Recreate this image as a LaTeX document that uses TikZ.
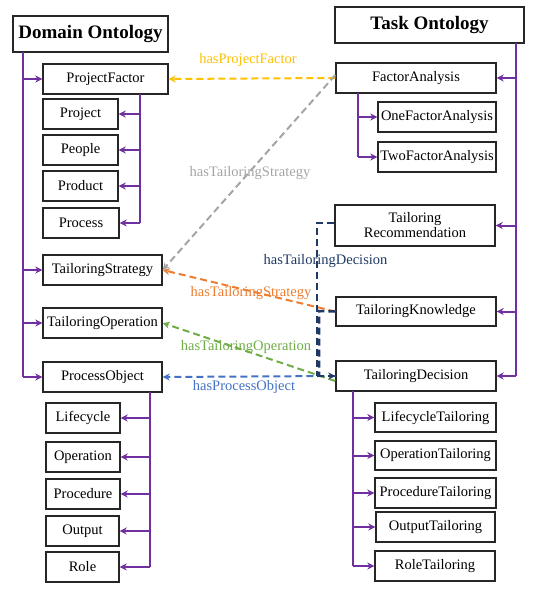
\documentclass[tikz,border=0pt]{standalone}
\usepackage{fontspec}
\setmainfont{Liberation Serif}
\usetikzlibrary{arrows.meta,calc}
\definecolor{purp}{HTML}{7030A0}
\definecolor{cyel}{HTML}{FFC000}
\definecolor{cgray}{HTML}{A5A5A5}
\definecolor{corange}{HTML}{ED7D31}
\definecolor{cgreen}{HTML}{70AD47}
\definecolor{cblue}{HTML}{4472C4}
\definecolor{cnavy}{HTML}{1F3864}
\tikzset{
  box/.style={draw=black!85, line width=1.4pt, inner sep=0pt, align=center, font=\fontsize{14.5}{15}\selectfont},
  head/.style={draw=black!85, line width=1.4pt, inner sep=0pt, font=\fontsize{19}{20}\selectfont\bfseries},
  tree/.style={draw=purp, line width=2pt},
  tarr/.style={tree, -{Stealth[length=7pt,width=7pt]}},
  rel/.style={line width=2pt, dash pattern=on 7pt off 4pt, -{Stealth[length=7pt,width=7pt]}},
  lab/.style={font=\fontsize{14.5}{15}\selectfont, inner sep=0pt}
}
\begin{document}
\begin{tikzpicture}[x=1pt,y=-1pt]
\useasboundingbox (0,0) rectangle (535,598);
% left side
\node[head, minimum width=155pt, minimum height=36pt] (dom) at (90.5,34) {Domain Ontology};
\node[box, minimum width=125pt, minimum height=30pt] (pf) at (105.5,79) {ProjectFactor};
\node[box, minimum width=75pt, minimum height=30pt] (proj) at (80.5,114) {Project};
\node[box, minimum width=75pt, minimum height=30pt] (people) at (80.5,150) {People};
\node[box, minimum width=75pt, minimum height=30pt] (product) at (80.5,186) {Product};
\node[box, minimum width=76pt, minimum height=30pt] (process) at (81,223) {Process};
\node[box, minimum width=119pt, minimum height=30pt] (ts) at (102.5,270) {TailoringStrategy};
\node[box, minimum width=119pt, minimum height=30pt] (to) at (102.5,323) {TailoringOperation};
\node[box, minimum width=119pt, minimum height=30pt] (po) at (102.5,377) {ProcessObject};
\node[box, minimum width=74pt, minimum height=30pt] (life) at (83,418) {Lifecycle};
\node[box, minimum width=74pt, minimum height=30pt] (oper) at (83,457) {Operation};
\node[box, minimum width=74pt, minimum height=30pt] (proc) at (83,494) {Procedure};
\node[box, minimum width=73pt, minimum height=30pt] (outp) at (82.5,531) {Output};
\node[box, minimum width=73pt, minimum height=30pt] (role) at (82.5,567) {Role};
% right side
\node[head, minimum width=189pt, minimum height=36pt] (task) at (429.5,25) {Task Ontology};
\node[box, minimum width=160pt, minimum height=30pt] (fa) at (416,78) {FactorAnalysis};
\node[box, minimum width=118pt, minimum height=30pt] (one) at (437,117) {OneFactorAnalysis};
\node[box, minimum width=118pt, minimum height=30pt] (two) at (437,157) {TwoFactorAnalysis};
\node[box, minimum width=160pt, minimum height=41pt] (trec) at (415,225.5) {Tailoring\\Recommendation};
\node[box, minimum width=160pt, minimum height=29pt] (tk) at (416,311.5) {TailoringKnowledge};
\node[box, minimum width=160pt, minimum height=30pt] (td) at (416,376) {TailoringDecision};
\node[box, minimum width=121pt, minimum height=29pt] (lt) at (435.5,417.5) {LifecycleTailoring};
\node[box, minimum width=121pt, minimum height=29pt] (ot) at (435.5,455.5) {OperationTailoring};
\node[box, minimum width=121pt, minimum height=30pt] (prt) at (435.5,493) {ProcedureTailoring};
\node[box, minimum width=119pt, minimum height=30pt] (outt) at (435.5,527) {OutputTailoring};
\node[box, minimum width=120pt, minimum height=30pt] (rt) at (435,566) {RoleTailoring};

% trunks
\coordinate (L) at (23,52);
\draw[tree] (L) -- (L |- po);
\foreach \n in {pf,ts,to,po} \draw[tarr] (L |- \n) -- (\n.west);
\coordinate (PF) at (140,94);
\draw[tree] (PF) -- (PF |- process);
\foreach \n in {proj,people,product,process} \draw[tarr] (PF |- \n) -- (\n.east);
\coordinate (PO) at (150,392);
\draw[tree] (PO) -- (PO |- role);
\foreach \n in {life,oper,proc,outp,role} \draw[tarr] (PO |- \n) -- (\n.east);
\coordinate (R) at (516,43);
\draw[tree] (R) -- (R |- td);
\foreach \n in {fa,trec,tk,td} \draw[tarr] (R |- \n) -- (\n.east);
\coordinate (FA) at (358,93);
\draw[tree] (FA) -- (FA |- two);
\foreach \n in {one,two} \draw[tarr] (FA |- \n) -- (\n.west);
\coordinate (TD) at (353,391);
\draw[tree] (TD) -- (TD |- rt);
\foreach \n in {lt,ot,prt,outt,rt} \draw[tarr] (TD |- \n) -- (\n.west);

% relations
\draw[rel, cyel] (fa.west) -- (pf.east);
\node[lab, text=cyel] (l1) at (248,60) {hasProjectFactor};
\draw[rel, cgray] ([yshift=3pt]fa.west) -- (ts.east);
\node[lab, text=cgray] (l2) at (250,173) {hasTailoringStrategy};
\draw[rel, corange] (tk.west) -- (ts.east);
\node[lab, text=corange] (l3) at (251,293) {hasTailoringStrategy};
\draw[rel, cgreen] ([yshift=-5pt]td.west) -- (to.east);
\node[lab, text=cgreen] (l4) at (246,347) {hasTailoringOperation};
\draw[rel, cblue] (td.west) -- (po.east);
\node[lab, text=cblue] (l5) at (244,387) {hasProcessObject};
\coordinate (N1) at (317,223);
\coordinate (N2) at (319,311);
\draw[rel, cnavy, line width=2.5pt, -] (trec.west |- N1) -- (N1) -- (N1 |- td);
\draw[rel, cnavy, line width=2.5pt, -] (tk.west) -- (N2) -- (N2 |- td);
\draw[rel, cnavy, line width=2.5pt] (N1 |- td) -- (td.west);
\node[lab, text=cnavy] (l6) at (325.5,261) {hasTailoringDecision};
\end{tikzpicture}
\end{document}
